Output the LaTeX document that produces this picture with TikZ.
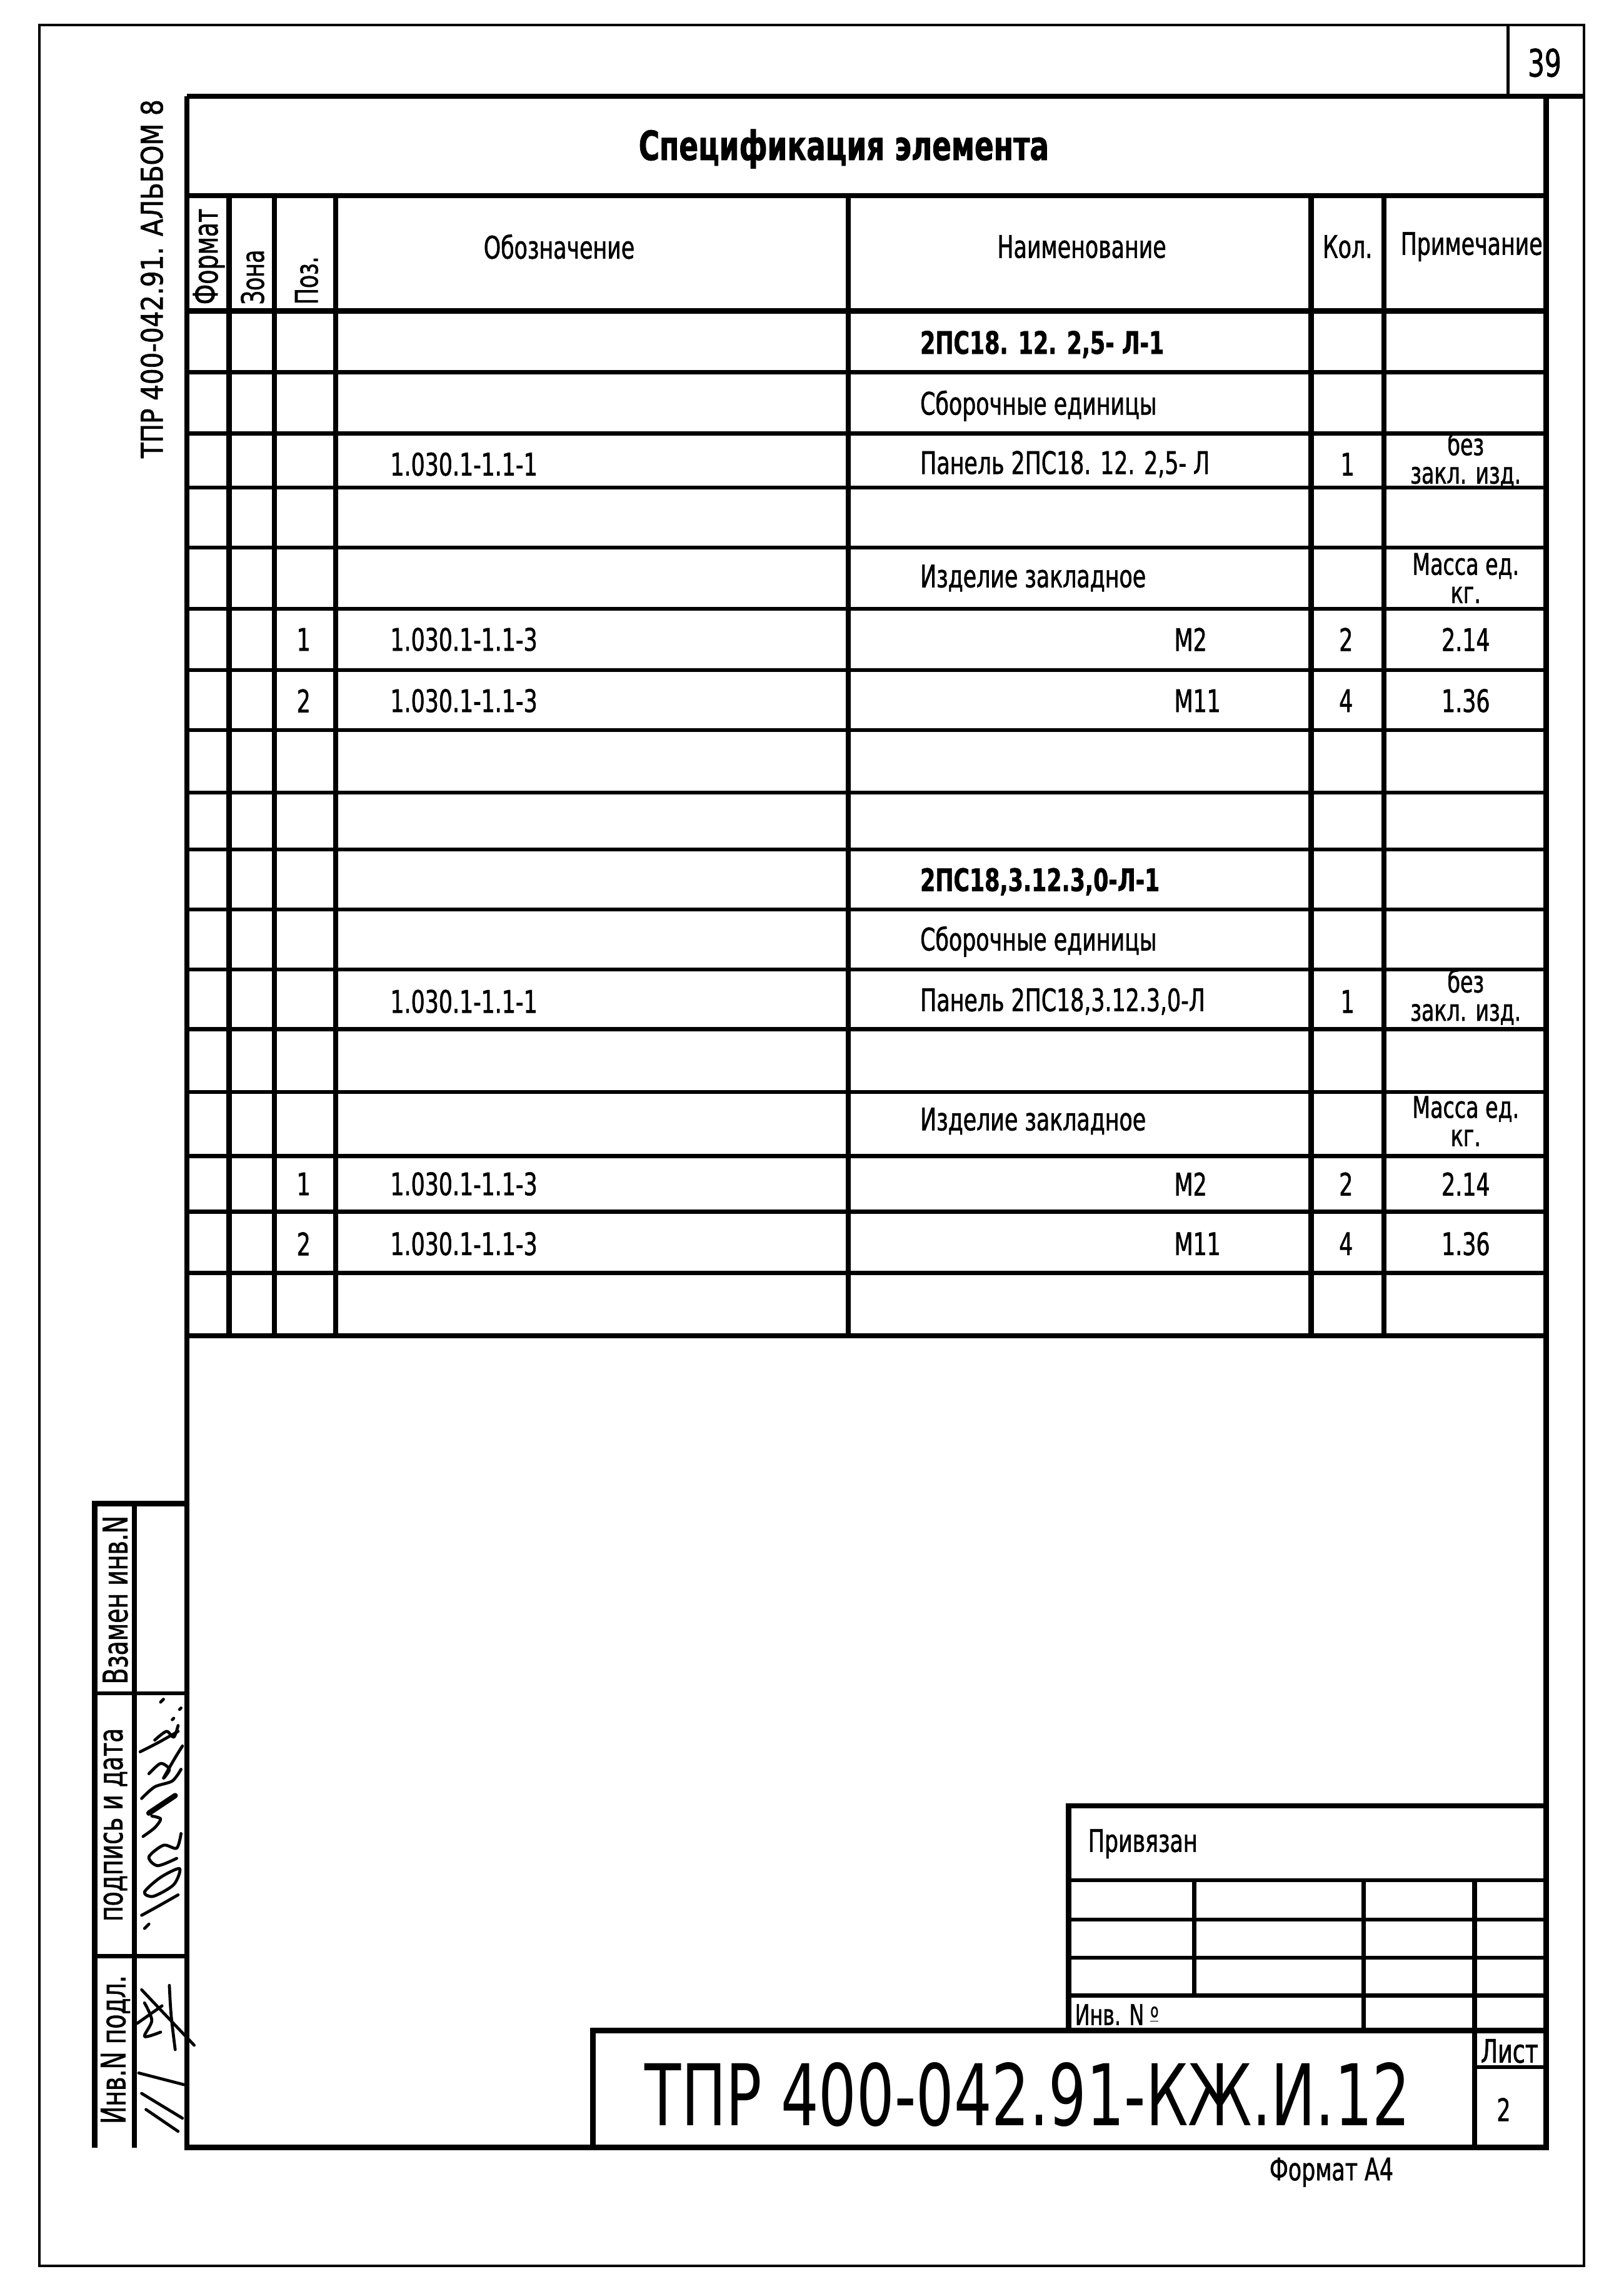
\documentclass[tikz,border=0pt]{standalone}
\usepackage{fontspec}
\setmainfont[FakeStretch=0.7, FakeBold=1.2]{DejaVu Sans}
\newfontfamily\albumfont[FakeStretch=0.85, FakeBold=1.5]{DejaVu Sans}
\newfontfamily\codefont[FakeStretch=0.7]{DejaVu Sans}

\begin{document}
\begin{tikzpicture}
  [x=0.19mm, y=-0.19mm,
   every node/.style={inner sep=0pt, font=\fontsize{11.5}{12}\selectfont},
   sheet line/.style={line width=1pt},
   frame/.style={line width=2pt},
   rule/.style={line width=1.5pt},
   hand/.style={line width=1.1pt, line cap=round, line join=round},
   cell/.style={anchor=west},
   upright/.style={rotate=90, anchor=west},
   side/.style={rotate=90, font=\fontsize{12.5}{13}\selectfont},
   note/.style={align=center, font=\fontsize{11}{10.5}\selectfont},
   heading/.style={font=\bfseries\fontsize{11.5}{12}\selectfont, anchor=west}]

  \useasboundingbox (0,0) rectangle (1112,1568);

  \draw[sheet line] (27,17) rectangle (1085,1552);
  \draw[sheet line] (1033,17) -- (1033,66);
  \node (page) at (1058,43) {\fontsize{14}{14}\selectfont 39};
  \node[rotate=90, font=\albumfont\fontsize{11}{11}\selectfont] (album) at (104,191) {ТПР 400-042.91. АЛЬБОМ 8};

  \draw[frame] (128,66) -- (1085,66);
  \draw[frame] (128,66) -- (128,1471) -- (1059,1471) -- (1059,66);
  \node[font=\bfseries\fontsize{15}{15}\selectfont] (title) at (578,102) {Спецификация элемента};

  % specification table
  \draw[frame] (128,134) -- (1059,134);
  \draw[frame] (128,213) -- (1059,213);
  \foreach \y in {255,297,334,375,417,459,500,543,582,623,664,705,748,792,830,872}
    \draw[rule] (128,\y) -- (1059,\y);
  \draw[frame] (128,915) -- (1059,915);
  \foreach \x in {157,188,230,581,898,948}
    \draw[frame] (\x,134) -- (\x,915);

  \node[upright, font=\fontsize{12.5}{13}\selectfont] (format) at (143,209) {Формат};
  \node[upright] (zone) at (173,209) {Зона};
  \node[upright] (pos) at (210,209) {Поз.};
  \node (desig) at (383,169) {Обозначение};
  \node (name) at (741,169) {Наименование};
  \node (qty) at (923,169) {Кол.};
  \node (remark) at (1008,169) {Примечание};

  \node[heading] (mark1) at (630,236) {2ПС18. 12. 2,5- Л-1};
  \node[cell] (unit1) at (630,278) {Сборочные единицы};
  \node[cell] (code1) at (267,318) {1.030.1-1.1-1};
  \node[cell] (panel1) at (630,318) {Панель 2ПС18. 12. 2,5- Л};
  \node (n1) at (923,318) {1};
  \node[note] (r1) at (1004,315) {без\\закл. изд.};
  \node[cell] (emb1) at (630,396) {Изделие закладное};
  \node[note] (mass1) at (1004,396) {Масса ед.\\кг.};
  \node (p11) at (208,438) {1};
  \node[cell] (c11) at (267,438) {1.030.1-1.1-3};
  \node[cell] (m11) at (804,438) {М2};
  \node (q11) at (922,438) {2};
  \node (w11) at (1004,438) {2.14};
  \node (p12) at (208,480) {2};
  \node[cell] (c12) at (267,480) {1.030.1-1.1-3};
  \node[cell] (m12) at (804,480) {М11};
  \node (q12) at (922,480) {4};
  \node (w12) at (1004,480) {1.36};

  \node[heading] (mark2) at (630,604) {2ПС18,3.12.3,0-Л-1};
  \node[cell] (unit2) at (630,645) {Сборочные единицы};
  \node[cell] (code2) at (267,686) {1.030.1-1.1-1};
  \node[cell] (panel2) at (630,686) {Панель 2ПС18,3.12.3,0-Л};
  \node (n2) at (923,686) {1};
  \node[note] (r2) at (1004,683) {без\\закл. изд.};
  \node[cell] (emb2) at (630,768) {Изделие закладное};
  \node[note] (mass2) at (1004,768) {Масса ед.\\кг.};
  \node (p21) at (208,811) {1};
  \node[cell] (c21) at (267,811) {1.030.1-1.1-3};
  \node[cell] (m21) at (804,811) {М2};
  \node (q21) at (922,811) {2};
  \node (w21) at (1004,811) {2.14};
  \node (p22) at (208,852) {2};
  \node[cell] (c22) at (267,852) {1.030.1-1.1-3};
  \node[cell] (m22) at (804,852) {М11};
  \node (q22) at (922,852) {4};
  \node (w22) at (1004,852) {1.36};

  % approval stamp
  \draw[frame] (65,1471) -- (65,1030) -- (128,1030);
  \draw[frame] (92,1030) -- (92,1471);
  \draw[rule] (65,1160) -- (128,1160);
  \draw[rule] (65,1340) -- (128,1340);
  \node[side] (repl) at (79,1096) {Взамен инв.N};
  \node[side] (sign) at (79,1250) {подпись и дата};
  \node[side] (orig) at (79,1404) {Инв.N подл.};

  \draw[hand] (99,1321) -- (102,1318);
  \draw[hand] (97,1312) .. controls (108,1306) .. (122,1298);
  \draw[hand] plot[smooth cycle] coordinates {(99,1296) (110,1286) (123,1280) (119,1291) (105,1299)};
  \draw[hand] plot[smooth] coordinates {(121,1273) (108,1278) (102,1272) (112,1264) (121,1266) (124,1256)};
  \draw[hand] plot[smooth] coordinates {(98,1258) (106,1252) (110,1246) (104,1244)};
  \draw[hand, line width=2pt] (102,1242) -- (120,1230);
  \draw[hand] plot[smooth] coordinates {(97,1232) (106,1224) (118,1220) (124,1212)};
  \draw[hand] plot[smooth] coordinates {(102,1215) (110,1208) (116,1212) (112,1218) (120,1204) (125,1196)};
  \draw[hand] (96,1200) .. controls (108,1194) .. (122,1186);
  \draw[hand] plot[smooth] coordinates {(106,1192) (114,1186) (119,1190) (122,1182)};
  \draw[hand] (118,1178) -- (119,1177);
  \draw[hand] (123,1171) -- (124,1170);
  \draw[hand] (110,1166) -- (112,1164);
  \draw[hand] (97,1363) -- (133,1401);
  \draw[hand] (116,1360) .. controls (117,1380) .. (120,1404);
  \draw[hand] (94,1386) -- (111,1374);
  \draw[hand] plot[smooth] coordinates {(99,1372) (104,1384) (99,1395) (110,1392)};
  \draw[hand] (95,1420) -- (126,1428);
  \draw[hand] (97,1434) -- (125,1451);
  \draw[hand] (100,1445) -- (122,1460);

  % title block
  \draw[frame] (406,1471) -- (406,1391) -- (1059,1391);
  \draw[frame] (732,1391) -- (732,1237) -- (1059,1237);
  \foreach \y in {1288,1315,1341,1367}
    \draw[rule] (732,\y) -- (1059,\y);
  \draw[rule] (818,1288) -- (818,1367);
  \draw[rule] (934,1288) -- (934,1391);
  \draw[frame] (1010,1288) -- (1010,1471);
  \draw[rule] (1010,1416) -- (1059,1416);

  \node[cell] (bound) at (745,1263) {Привязан};
  \node[cell, font=\fontsize{10.5}{11}\selectfont] (inv) at (736,1380) {Инв. N \raisebox{0.5ex}{\underline{\fontsize{7}{7}\selectfont o}}};
  \node[font=\codefont\fontsize{31.5}{32}\selectfont] (doc) at (704,1435) {ТПР 400-042.91-КЖ.И.12};
  \node[font=\fontsize{12}{12}\selectfont] (listlbl) at (1034,1405) {Лист};
  \node (listno) at (1030,1445) {2};
  \node (fmt) at (912,1488) {Формат А4};
\end{tikzpicture}
\end{document}
